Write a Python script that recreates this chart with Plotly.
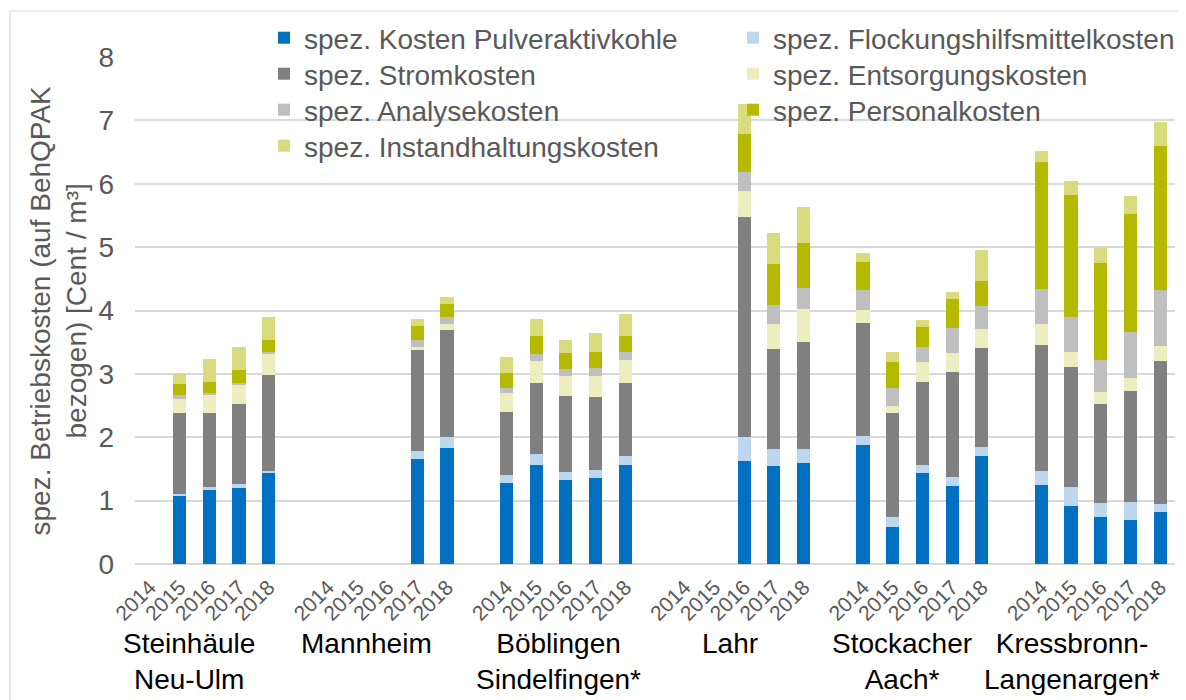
import plotly.graph_objects as go

# ---------------- data ----------------
groups = ["Steinhäule<br>Neu-Ulm", "Mannheim", "Böblingen<br>Sindelfingen*",
          "Lahr", "Stockacher<br>Aach*", "Kressbronn-<br>Langenargen*"]
years = ["2014", "2015", "2016", "2017", "2018"]

series_names = [
    "spez. Kosten Pulveraktivkohle",
    "spez. Flockungshilfsmittelkosten",
    "spez. Stromkosten",
    "spez. Entsorgungskosten",
    "spez. Analysekosten",
    "spez. Personalkosten",
    "spez. Instandhaltungskosten",
]

pak = [None, 1.07, 1.17, 1.20, 1.43,  None, None, None, 1.66, 1.83,
       1.28, 1.56, 1.33, 1.36, 1.56,  None, None, 1.62, 1.55, 1.60,
       1.87, 0.59, 1.44, 1.23, 1.70,  1.25, 0.92, 0.74, 0.69, 0.82]
flock = [None, 0.04, 0.05, 0.07, 0.04,  None, None, None, 0.13, 0.17,
         0.12, 0.17, 0.12, 0.13, 0.14,  None, None, 0.38, 0.27, 0.22,
         0.15, 0.15, 0.13, 0.15, 0.14,  0.22, 0.30, 0.23, 0.29, 0.12]
strom = [None, 1.28, 1.16, 1.25, 1.52,  None, None, None, 1.59, 1.70,
         1.00, 1.13, 1.20, 1.15, 1.16,  None, None, 3.48, 1.57, 1.68,
         1.79, 1.64, 1.30, 1.65, 1.57,  1.99, 1.89, 1.55, 1.75, 2.26]
entsorgung = [None, 0.22, 0.28, 0.30, 0.33,  None, None, None, 0.05, 0.08,
              0.30, 0.35, 0.31, 0.32, 0.36,  None, None, 0.40, 0.40, 0.53,
              0.20, 0.11, 0.31, 0.30, 0.30,  0.32, 0.23, 0.20, 0.20, 0.24]
analyse = [None, 0.05, 0.04, 0.04, 0.03,  None, None, None, 0.11, 0.11,
           0.08, 0.11, 0.12, 0.13, 0.13,  None, None, 0.30, 0.29, 0.33,
           0.32, 0.29, 0.25, 0.39, 0.36,  0.56, 0.55, 0.50, 0.73, 0.88]
personal = [None, 0.18, 0.17, 0.20, 0.18,  None, None, None, 0.21, 0.21,
            0.24, 0.27, 0.25, 0.25, 0.25,  None, None, 0.61, 0.66, 0.70,
            0.44, 0.41, 0.31, 0.46, 0.39,  2.00, 1.94, 1.53, 1.87, 2.28]
instand = [None, 0.17, 0.37, 0.37, 0.37,  None, None, None, 0.11, 0.12,
           0.24, 0.28, 0.21, 0.30, 0.35,  None, None, 0.47, 0.49, 0.58,
           0.13, 0.16, 0.11, 0.11, 0.50,  0.18, 0.21, 0.23, 0.27, 0.37]

series_values = [pak, flock, strom, entsorgung, analyse, personal, instand]

# ---------------- styles / layout ----------------
colors = ["#0070C0", "#BDD7EE", "#808080", "#EDEEC0", "#BFBFBF", "#B5B900", "#D9DC7E"]
label_shift = [-0.68, -0.71, -0.26, -0.47, -0.68, -0.96]  # group label offset (slots)
FONT = "Arial, 'Liberation Sans', sans-serif"
GREY_TXT = "#595959"

PAGE_OFF = 8                 # default body margin of the html page
VW, VH = 1186, 700           # browser viewport
W, H = VW - PAGE_OFF, VH - PAGE_OFF
PLOT_L, PLOT_R, PLOT_T, PLOT_B = 135, 1175, 57, 564   # plot area in viewport px
ML, MR = PLOT_L - PAGE_OFF, VW - PLOT_R
MT, MB = PLOT_T - PAGE_OFF, VH - PLOT_B
PW, PH = PLOT_R - PLOT_L, PLOT_B - PLOT_T


def px_x(px):
    return (px - PLOT_L) / PW


def px_y(py):
    return (PLOT_B - py) / PH


legend_col_px = [264, 733]
legend_row_px = [38, 74, 110, 146]

slot = len(years) + 1  # one empty slot between groups
xpos = [g * slot + i for g in range(len(groups)) for i in range(len(years))]
xticktext = [y for _ in groups for y in years]

fig = go.Figure()
legend_layouts = {}
for k, (name, vals, col) in enumerate(zip(series_names, series_values, colors)):
    key = "legend" if k == 0 else f"legend{k + 1}"
    fig.add_trace(go.Bar(
        x=xpos, y=vals, name=name, marker=dict(color=col, line=dict(width=0)),
        width=0.44, legend=key,
    ))
    legend_layouts[key] = dict(
        x=px_x(legend_col_px[k % 2]), y=px_y(legend_row_px[k // 2]),
        xanchor="left", yanchor="middle", orientation="v",
        bgcolor="rgba(0,0,0,0)", borderwidth=0,
        font=dict(family=FONT, size=28, color=GREY_TXT), itemwidth=30,
    )

for g, (lab, dx) in enumerate(zip(groups, label_shift)):
    fig.add_annotation(
        x=g * slot + (len(years) - 1) / 2 + dx, xref="x",
        y=px_y(626), yref="paper", yanchor="top", xanchor="center",
        text=lab, showarrow=False, align="center",
        font=dict(family=FONT, size=28, color="#000000"),
    )

fig.add_annotation(
    x=px_x(58), xref="paper", y=0.5, yref="paper", xanchor="center", yanchor="middle",
    text="spez. Betriebskosten (auf BehQPAK<br>bezogen) [Cent / m³]",
    textangle=-90, showarrow=False, align="center",
    font=dict(family=FONT, size=28, color=GREY_TXT),
)

fig.add_shape(type="rect", xref="paper", yref="paper",
              x0=px_x(10), x1=px_x(1210), y0=px_y(720), y1=px_y(11),
              line=dict(color="#D9D9D9", width=1.2), layer="below")

fig.update_layout(
    width=W, height=H,
    margin=dict(l=ML, r=MR, t=MT, b=MB, autoexpand=False),
    paper_bgcolor="white", plot_bgcolor="white",
    barmode="stack", bargap=0,
    font=dict(family=FONT, size=28, color=GREY_TXT),
    showlegend=True,
    xaxis=dict(
        range=[-0.5, len(groups) * slot - 1.5],
        tickmode="array", tickvals=xpos, ticktext=xticktext,
        tickangle=-45, tickfont=dict(family=FONT, size=21, color=GREY_TXT),
        showgrid=False, zeroline=False, showline=False, ticks="",
        ticklabelstandoff=6, automargin=False,
    ),
    yaxis=dict(
        range=[0, 8], dtick=1, tick0=0,
        showgrid=True, gridcolor="#D9D9D9", gridwidth=1.5,
        zeroline=True, zerolinecolor="#D9D9D9", zerolinewidth=2,
        tickfont=dict(family=FONT, size=28, color=GREY_TXT),
        ticks="", ticklabelstandoff=20, showline=False, automargin=False,
    ),
    **legend_layouts,
)

fig.write_html("out.html")
